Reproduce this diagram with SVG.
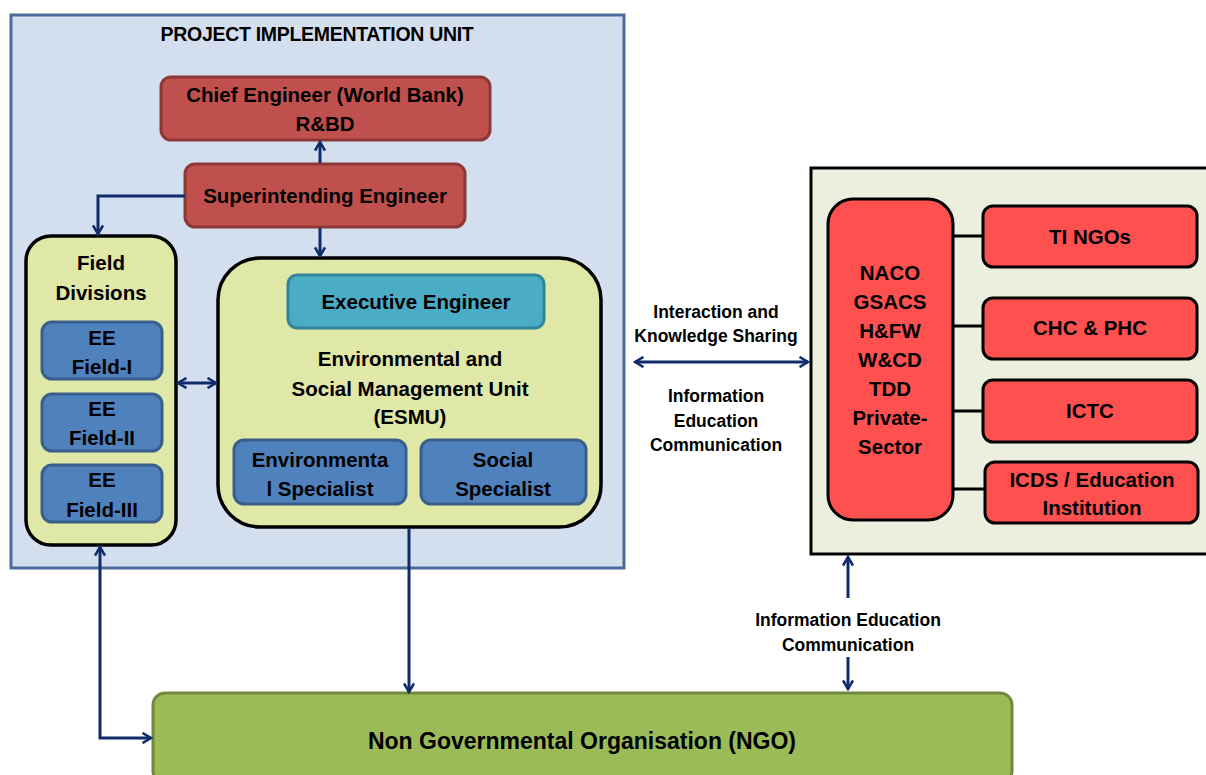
<svg xmlns="http://www.w3.org/2000/svg" width="1206" height="775" viewBox="0 0 1206 775">
<style>
text{font-family:"Liberation Sans",Arial,sans-serif;font-weight:bold;text-anchor:middle;fill:#000}
.t18{font-size:20.5px}
.t17{font-size:19.5px;letter-spacing:-0.3px}
.t16{font-size:17.5px}
.red{fill:#C0504D;stroke:#8C3836;stroke-width:3}
.blue{fill:#4F81BD;stroke:#3A5F8C;stroke-width:3}
.yg{fill:#DFE8A6;stroke:#000;stroke-width:3.5}
.br{fill:#FF5050;stroke:#000;stroke-width:3}
.con{fill:none;stroke:#0F2B6B;stroke-width:3}
.blk{fill:none;stroke:#000;stroke-width:3}
</style>
<defs>
<marker id="arr" viewBox="0 0 12 12" refX="10" refY="6" markerWidth="12" markerHeight="12" markerUnits="userSpaceOnUse" orient="auto-start-reverse">
<path d="M1.5,1 L10,6 L1.5,11" fill="none" stroke="#0F2B6B" stroke-width="2.6"/>
</marker>
</defs>
<rect width="1206" height="775" fill="#fff"/>

<g id="piu">
<rect x="11" y="15" width="613" height="553" fill="#D3DFEE" stroke="#4A6C9B" stroke-width="3"/>
<text class="t17" x="317" y="41">PROJECT IMPLEMENTATION UNIT</text>
</g>

<g id="chief">
<rect class="red" x="161" y="77" width="329" height="63" rx="10"/>
<text class="t18" x="325" y="102">Chief Engineer (World Bank)</text>
<text class="t18" x="325" y="131">R&amp;BD</text>
</g>

<g id="se">
<rect class="red" x="185" y="164" width="280" height="63" rx="10"/>
<text class="t18" x="325" y="203">Superintending Engineer</text>
</g>

<g id="field">
<rect class="yg" x="26" y="236" width="150" height="309" rx="25"/>
<text class="t18" x="101" y="270">Field</text>
<text class="t18" x="101" y="300">Divisions</text>
</g>
<g id="ee1">
<rect class="blue" x="42" y="322" width="120" height="57" rx="10"/>
<text class="t18" x="102" y="345">EE</text>
<text class="t18" x="102" y="374">Field-I</text>
</g>
<g id="ee2">
<rect class="blue" x="42" y="394" width="120" height="57" rx="10"/>
<text class="t18" x="102" y="416">EE</text>
<text class="t18" x="102" y="445">Field-II</text>
</g>
<g id="ee3">
<rect class="blue" x="42" y="465" width="120" height="57" rx="10"/>
<text class="t18" x="102" y="487">EE</text>
<text class="t18" x="102" y="517">Field-III</text>
</g>

<g id="esmu">
<rect class="yg" x="218" y="258" width="383" height="269" rx="42"/>
<text class="t18" x="410" y="366">Environmental and</text>
<text class="t18" x="410" y="396">Social Management Unit</text>
<text class="t18" x="410" y="424">(ESMU)</text>
</g>
<g id="exec">
<rect x="288" y="275" width="256" height="53" rx="9" fill="#4BACC6" stroke="#31849B" stroke-width="3"/>
<text class="t18" x="416" y="309">Executive Engineer</text>
</g>
<g id="envspec">
<rect class="blue" x="234" y="440" width="172" height="64" rx="10"/>
<text class="t18" x="320" y="467">Environmenta</text>
<text class="t18" x="320" y="496">l Specialist</text>
</g>
<g id="socspec">
<rect class="blue" x="421" y="440" width="165" height="64" rx="10"/>
<text class="t18" x="503" y="467">Social</text>
<text class="t18" x="503" y="496">Specialist</text>
</g>

<g id="stake">
<rect x="811" y="168" width="400" height="386" fill="#EBF0DE" stroke="#000" stroke-width="3"/>
</g>
<g id="naco">
<rect class="br" x="828" y="199" width="125" height="321" rx="25"/>
<text class="t18" x="890" y="280">NACO</text>
<text class="t18" x="890" y="309">GSACS</text>
<text class="t18" x="890" y="338">H&amp;FW</text>
<text class="t18" x="890" y="367">W&amp;CD</text>
<text class="t18" x="890" y="396">TDD</text>
<text class="t18" x="890" y="425">Private-</text>
<text class="t18" x="890" y="454">Sector</text>
</g>
<g id="tingos">
<rect class="br" x="983" y="206" width="214" height="61" rx="10"/>
<text class="t18" x="1090" y="244">TI NGOs</text>
</g>
<g id="chc">
<rect class="br" x="983" y="298" width="214" height="61" rx="10"/>
<text class="t18" x="1090" y="335">CHC &amp; PHC</text>
</g>
<g id="ictc">
<rect class="br" x="983" y="380" width="214" height="62" rx="10"/>
<text class="t18" x="1090" y="418">ICTC</text>
</g>
<g id="icds">
<rect class="br" x="985" y="462" width="213" height="61" rx="10"/>
<text class="t18" x="1092" y="487">ICDS / Education</text>
<text class="t18" x="1092" y="515">Institution</text>
</g>

<g id="ngo">
<rect x="153" y="693" width="859" height="90" rx="12" fill="#9BBB59" stroke="#71893F" stroke-width="3"/>
<text x="582" y="749" style="font-size:23px">Non Governmental Organisation (NGO)</text>
</g>

<g id="labels">
<text class="t16" x="716" y="318">Interaction and</text>
<text class="t16" x="716" y="342">Knowledge Sharing</text>
<text class="t16" x="716" y="402">Information</text>
<text class="t16" x="716" y="427">Education</text>
<text class="t16" x="716" y="451">Communication</text>
<text class="t16" x="848" y="626">Information Education</text>
<text class="t16" x="848" y="651">Communication</text>
</g>

<g id="connectors">
<path class="con" d="M320,163 L320,142" marker-end="url(#arr)"/>
<path class="con" d="M185,196 L98,196 L98,234" marker-end="url(#arr)"/>
<path class="con" d="M320,228 L320,256" marker-end="url(#arr)"/>
<path class="con" d="M178,383 L216,383" marker-start="url(#arr)" marker-end="url(#arr)"/>
<path class="con" d="M409,528 L409,692" marker-end="url(#arr)"/>
<path class="con" d="M100,547 L100,738 L151,738" marker-start="url(#arr)" marker-end="url(#arr)"/>
<path class="con" d="M635,362 L808,362" marker-start="url(#arr)" marker-end="url(#arr)"/>
<path class="con" d="M848,598 L848,557" marker-end="url(#arr)"/>
<path class="con" d="M848,657 L848,689" marker-end="url(#arr)"/>
<path class="blk" d="M953,236 L983,236 M953,326 L983,326 M953,411 L983,411 M953,489 L985,489"/>
</g>
</svg>
